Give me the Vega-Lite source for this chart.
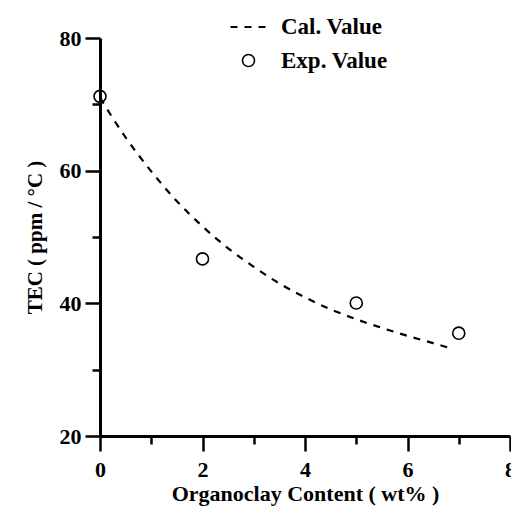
{
  "$schema": "https://vega.github.io/schema/vega-lite/v6.json",
  "width": 410,
  "height": 398,
  "autosize": {"type": "none"},
  "padding": {"left": 100, "top": 38, "right": 1, "bottom": 72},
  "background": "white",
  "config": {
    "view": {"stroke": null},
    "font": "Liberation Serif",
    "axis": {
      "grid": false,
      "domainColor": "black",
      "domainWidth": 3,
      "tickColor": "black",
      "tickWidth": 2.5,
      "labelFont": "Liberation Serif",
      "labelFontWeight": "bold",
      "labelFontSize": 22,
      "labelColor": "black",
      "labelFlush": false,
      "labelOverlap": false,
      "titleFont": "Liberation Serif",
      "titleFontWeight": "bold",
      "titleColor": "black",
      "labelPadding": 4
    },
    "legend": {
      "orient": "none",
      "labelFont": "Liberation Serif",
      "labelFontWeight": "bold",
      "labelFontSize": 23,
      "labelColor": "black",
      "padding": 0
    }
  },
  "datasets": {
    "cal": [
      {"x": 0, "y": 71.0, "series": "Cal. Value"},
      {"x": 0.5, "y": 65.0, "series": "Cal. Value"},
      {"x": 1, "y": 59.9, "series": "Cal. Value"},
      {"x": 1.5, "y": 55.4, "series": "Cal. Value"},
      {"x": 2, "y": 51.6, "series": "Cal. Value"},
      {"x": 2.5, "y": 48.3, "series": "Cal. Value"},
      {"x": 3, "y": 45.5, "series": "Cal. Value"},
      {"x": 3.5, "y": 43.0, "series": "Cal. Value"},
      {"x": 4, "y": 40.9, "series": "Cal. Value"},
      {"x": 4.5, "y": 39.1, "series": "Cal. Value"},
      {"x": 5, "y": 37.6, "series": "Cal. Value"},
      {"x": 5.5, "y": 36.3, "series": "Cal. Value"},
      {"x": 6, "y": 35.1, "series": "Cal. Value"},
      {"x": 6.5, "y": 34.0, "series": "Cal. Value"},
      {"x": 6.9, "y": 33.1, "series": "Cal. Value"}
    ],
    "exp": [
      {"x": 0, "y": 71.2, "series": "Exp. Value"},
      {"x": 2, "y": 46.7, "series": "Exp. Value"},
      {"x": 5, "y": 40.05, "series": "Exp. Value"},
      {"x": 7, "y": 35.5, "series": "Exp. Value"}
    ]
  },
  "encoding": {
    "x": {
      "field": "x",
      "type": "quantitative",
      "scale": {"domain": [0, 8], "nice": false, "zero": false},
      "axis": {
        "values": [0, 1, 2, 3, 4, 5, 6, 7, 8],
        "labelExpr": "datum.value % 2 === 0 ? datum.label : ''",
        "tickSize": {"condition": {"test": "datum.value % 2 === 0", "value": 15}, "value": 8},
        "labelPadding": 8,
        "title": "Organoclay Content ( wt% )",
        "titleFontSize": 22,
        "titlePadding": 3
      }
    },
    "y": {
      "field": "y",
      "type": "quantitative",
      "scale": {"domain": [20, 80], "nice": false, "zero": false},
      "axis": {
        "values": [20, 30, 40, 50, 60, 70, 80],
        "labelExpr": "datum.value % 20 === 0 ? datum.label : ''",
        "tickSize": {"condition": {"test": "datum.value % 20 === 0", "value": 15}, "value": 8},
        "title": "TEC ( ppm / °C )",
        "titleFontSize": 21,
        "titlePadding": 14
      }
    }
  },
  "layer": [
    {
      "data": {"name": "cal"},
      "mark": {"type": "line", "color": "black", "strokeWidth": 2.2, "interpolate": "monotone"},
      "encoding": {
        "strokeDash": {
          "field": "series",
          "type": "nominal",
          "scale": {"domain": ["Cal. Value"], "range": [[7, 7]]},
          "legend": {
            "title": null,
            "legendX": 129,
            "legendY": -31,
            "symbolSize": 1369,
            "symbolStrokeWidth": 2.2,
            "symbolStrokeColor": "black",
            "symbolDash": [6, 9],
            "labelOffset": 12
          }
        }
      }
    },
    {
      "data": {"name": "exp"},
      "mark": {"type": "point", "shape": "circle", "filled": false, "color": "black", "strokeWidth": 1.6, "size": 145, "opacity": 1},
      "encoding": {
        "shape": {
          "field": "series",
          "type": "nominal",
          "scale": {"domain": ["Exp. Value"], "range": ["circle"]},
          "legend": {
            "title": null,
            "legendX": 137,
            "legendY": 11,
            "symbolSize": 145,
            "symbolStrokeWidth": 1.6,
            "symbolStrokeColor": "black",
            "symbolFillColor": "transparent",
            "symbolOpacity": 1,
            "labelOffset": 21
          }
        }
      }
    }
  ]
}
